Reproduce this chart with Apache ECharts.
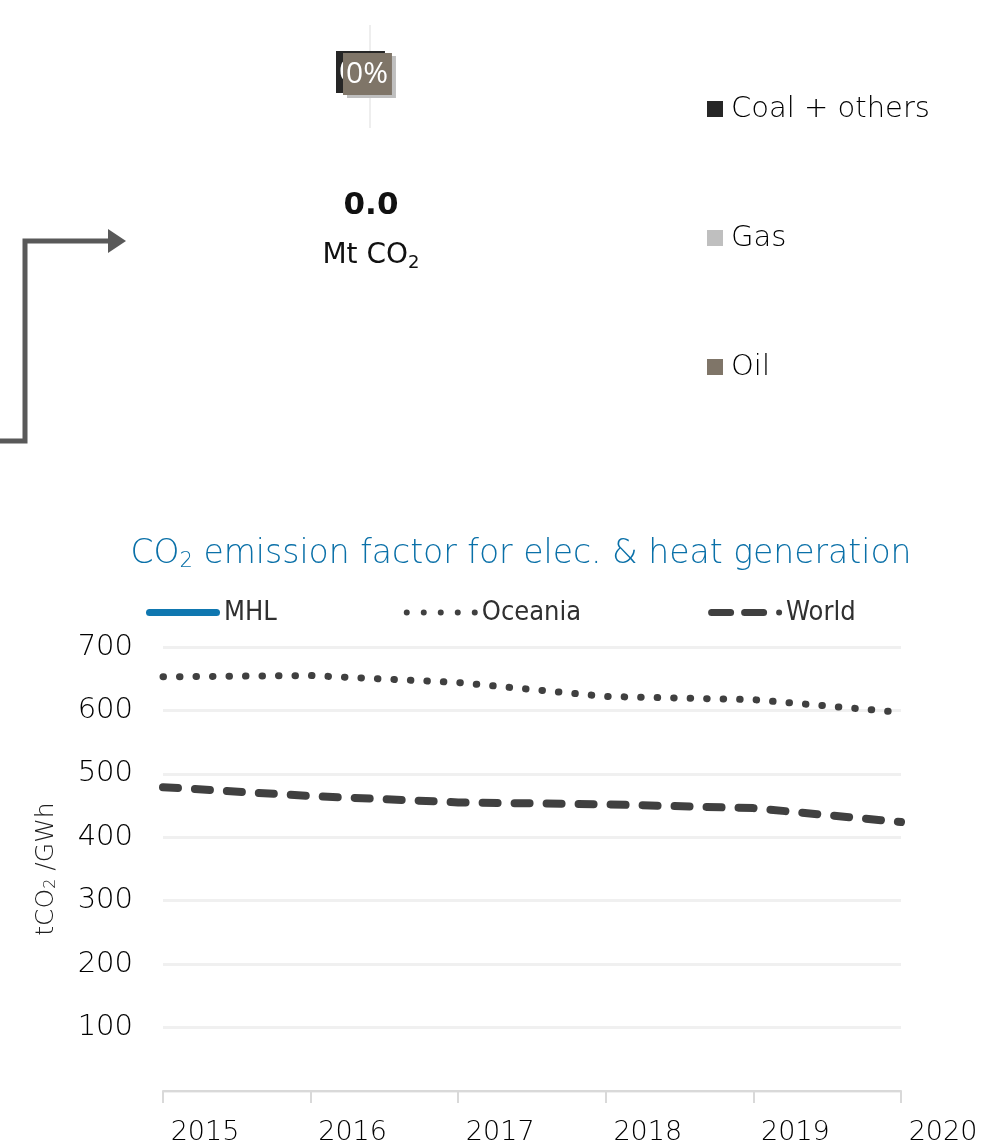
<!DOCTYPE html>
<html><head><meta charset="utf-8">
<script src="https://cdn.jsdelivr.net/npm/echarts@6/dist/echarts.min.js"></script>
<style>html,body{margin:0;padding:0;background:#fff}#c{width:990px;height:1146px}</style>
</head><body><div id="c"></div>
<script>
// Top (fuel share) data
const fuelNames = ['Coal + others', 'Gas', 'Oil'];
const fuelValues = [0, 0, 0];
const fuelColors = ['#262626', '#bfbfbf', '#7f7568'];
const totalEmissions = '0.0';

// Emission factor chart data
const years = ['2015', '2016', '2017', '2018', '2019', '2020'];
const mhl = [null, null, null, null, null, null];
const oceania = [653, 655, 644, 622, 617, 597];
const world = [479, 465, 455, 452, 446, 424];
const yTicks = [0, 100, 200, 300, 400, 500, 600, 700];

const chart = echarts.init(document.getElementById('c'));
const fuelSum = fuelValues.reduce((a, b) => a + b, 0);
const pct = v => (fuelSum ? Math.round(v / fuelSum * 100) : 0) + '%';

const FONT = 'DejaVu Sans';
// label boxes of pie slices (all zero → stacked at the top)
const boxOffsets = [[336, 51], [347, 56], [343, 53]];
const labelGraphics = [0, 1, 2].map(i => ({
  type: 'text', left: boxOffsets[i][0], top: boxOffsets[i][1], z: 10 + i,
  style: {
    text: pct(fuelValues[i]), fill: '#fff', font: '30px "Open Sans"', lineHeight: 34,
    backgroundColor: fuelColors[i], padding: [4, 4, 4, 3]
  }
}));

// legend icons for the line series (drawn within a 74 x 7 box)
const dotIcon = 'path://' + [3, 20, 37, 54, 71].map(c => `M${c - 3},3.5 A3,3 0 1 1 ${c + 3},3.5 A3,3 0 1 1 ${c - 3},3.5 Z`).join(' ');
const dashIcon = 'path://M3.5,0 L22.5,0 A3.5,3.5 0 0 1 22.5,7 L3.5,7 A3.5,3.5 0 0 1 3.5,0 Z M36.5,0 L55.5,0 A3.5,3.5 0 0 1 55.5,7 L36.5,7 A3.5,3.5 0 0 1 36.5,0 Z M68,3.5 A3,3 0 1 1 74,3.5 A3,3 0 1 1 68,3.5 Z';
const barIcon = 'path://M3.5,0 L70.5,0 A3.5,3.5 0 0 1 70.5,7 L3.5,7 A3.5,3.5 0 0 1 3.5,0 Z';

chart.setOption({
  animation: false,
  title: {
    text: 'CO{sub|2} emission factor for elec. & heat generation',
    left: 516, textAlign: 'center', top: 532,
    textStyle: {
      fontFamily: FONT, fontWeight: 200, fontSize: 33, color: '#0a70a8',
      rich: { sub: { fontFamily: FONT, fontWeight: 200, fontSize: 21, color: '#0a70a8', verticalAlign: 'bottom', padding: [14, 0, 0, 0] } }
    }
  },
  legend: [{
    data: fuelNames, orient: 'vertical', left: 702, top: 88,
    icon: 'rect', itemWidth: 16, itemHeight: 16, itemGap: 97,
    textStyle: { fontFamily: FONT, fontWeight: 200, fontSize: 29, color: '#000', lineHeight: 32, padding: [0, 0, 0, 3] }
  }, {
    data: [
      { name: 'MHL', icon: barIcon },
      { name: 'Oceania', icon: dotIcon },
      { name: 'World', icon: dashIcon }
    ],
    left: 141, top: 594, itemWidth: 74, itemHeight: 7, itemGap: 127,
    textStyle: { fontFamily: 'DejaVu Sans Condensed', fontWeight: 200, fontSize: 27, color: '#303030', padding: [0, 0, 0, -1] }
  }],
  grid: { left: 163, right: 89, top: 647, bottom: 54 },
  xAxis: {
    type: 'category', data: years, boundaryGap: false,
    axisLine: { lineStyle: { color: '#d9d9d9', width: 2 } },
    axisTick: { show: true, length: 12, lineStyle: { color: '#d9d9d9', width: 2 } },
    axisLabel: { fontFamily: FONT, fontWeight: 200, fontSize: 27, color: '#000', margin: 28, padding: [0, 0, 0, 84] },
    splitLine: { show: false }
  },
  yAxis: {
    type: 'value', min: yTicks[0], max: yTicks[yTicks.length - 1], interval: 100,
    name: 'tCO{sub|2} /GWh', nameLocation: 'middle', nameGap: 104, nameRotate: 90,
    nameTextStyle: { fontFamily: FONT, fontWeight: 200, fontSize: 25, color: '#202020',
      rich: { sub: { fontFamily: FONT, fontWeight: 200, fontSize: 16, color: '#202020', verticalAlign: 'bottom', padding: [10, 0, 0, 0] } } },
    axisLine: { show: false }, axisTick: { show: false },
    axisLabel: { fontFamily: FONT, fontWeight: 200, fontSize: 29, color: '#000', margin: 30, formatter: v => v === 0 ? '' : String(v) },
    splitLine: { lineStyle: { color: '#f0f0f0', width: 3 } }
  },
  graphic: [
    { type: 'line', shape: { x1: 370, y1: 25, x2: 370, y2: 128 }, style: { stroke: '#eeeeee', lineWidth: 2 } },
    ...labelGraphics,
    { type: 'text', x: 371, y: 206, style: { text: totalEmissions, font: 'bold 31px "DejaVu Sans"', fill: '#111', align: 'center', verticalAlign: 'middle' } },
    { type: 'text', x: 371, y: 256, style: {
      text: 'Mt CO{s|2}', font: '28px "DejaVu Sans"', fill: '#111', align: 'center', verticalAlign: 'middle',
      rich: { s: { font: '18px "DejaVu Sans"', fill: '#111', verticalAlign: 'bottom', padding: [15, 0, 0, 0] } } } },
    { type: 'polyline', shape: { points: [[0, 441], [25, 441], [25, 241], [110, 241]] },
      style: { stroke: '#595959', lineWidth: 5, fill: null } },
    { type: 'polygon', shape: { points: [[108, 229], [126, 241], [108, 253]] }, style: { fill: '#595959' } }
  ],
  series: [
    {
      type: 'pie', name: 'share', center: [370, 240], radius: ['30%', '40%'],
      data: fuelNames.map((n, i) => ({ name: n, value: fuelValues[i], itemStyle: { color: fuelColors[i] } })),
      stillShowZeroSum: false, showEmptyCircle: false, label: { show: false }, labelLine: { show: false }, silent: true
    },
    { name: 'MHL', type: 'line', data: mhl, symbol: 'none', color: '#0f77b0',
      lineStyle: { color: '#0f77b0', width: 7, cap: 'round' } },
    { name: 'Oceania', type: 'line', data: oceania, symbol: 'none', color: '#404040',
      lineStyle: { color: '#404040', width: 7, type: [0.5, 16], cap: 'round' } },
    { name: 'World', type: 'line', data: world, symbol: 'none', color: '#404040',
      lineStyle: { color: '#404040', width: 8, type: [15, 17], cap: 'round' } }
  ]
});
</script></body></html>
